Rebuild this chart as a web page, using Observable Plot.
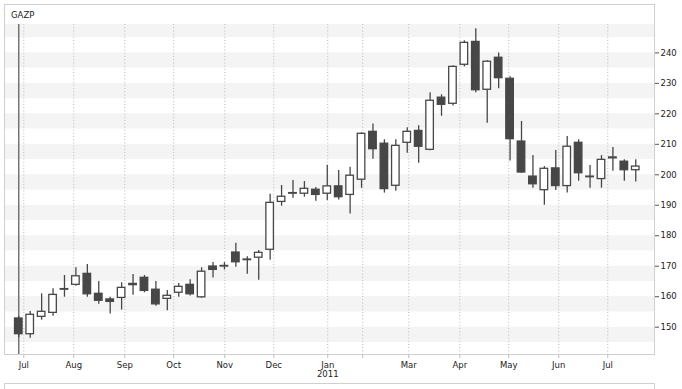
<!DOCTYPE html>
<html>
<head>
<meta charset="utf-8">
<script src="https://cdn.jsdelivr.net/npm/d3@7"></script>
<script src="https://cdn.jsdelivr.net/npm/@observablehq/plot@0.6"></script>
<style>
  html, body { margin: 0; padding: 0; background: #fff; }
  #chart { width: 682px; height: 389px; }
</style>
</head>
<body>
<div id="chart"></div>
<script>
const title = "GAZP";

// weekly candles (index order)
const open = [152.85,147.7,153.4,154.7,162.3,163.9,167.5,160.96,159.1,159.6,
  163.8,166.2,162.3,159.3,161.3,163.9,159.8,169.9,169.9,174.5,
  172.0,172.8,175.4,191.1,193.8,193.8,195.1,193.8,196.2,193.4,
  198.4,214.1,210.2,196.4,210.5,214.4,208.2,225.3,223.3,236.1,
  243.6,227.9,238.4,231.5,210.9,199.4,194.95,202.1,196.3,210.5,
  199.4,198.6,205.4,204.3,201.5];
const close = [147.7,154.07,155.05,160.6,162.5,166.7,160.8,158.66,158.3,162.9,
  164.2,161.9,157.5,160.3,163.25,160.8,168.2,168.8,170.1,171.3,
  172.2,174.4,190.8,192.8,194.0,195.4,193.4,196.2,192.65,199.7,
  213.45,208.4,195.3,209.5,214.1,209.2,224.3,222.97,235.4,243.3,
  227.75,237.1,231.7,211.7,200.75,196.9,201.97,196.3,209.2,200.5,
  199.2,204.9,205.7,201.5,202.7];
const high = [153.5,155.15,160.96,162.6,166.96,169.5,170.6,165.0,159.8,164.6,
  167.3,166.96,165.0,162.0,164.3,165.55,169.5,171.2,171.2,177.5,
  173.1,175.2,193.6,196.5,198.1,197.8,195.8,203.1,201.4,202.5,
  213.8,216.7,211.5,211.5,215.4,216.1,226.9,226.25,235.8,243.96,
  247.9,237.4,240.0,232.15,217.5,206.3,202.7,208.0,212.6,211.5,
  203.05,206.3,208.96,204.9,204.9];
const low = [146.5,146.4,152.3,153.6,159.84,163.45,159.8,157.5,154.3,155.6,
  160.5,161.3,156.9,155.4,159.8,160.2,159.5,166.1,168.8,169.7,
  167.4,165.4,172.0,189.7,192.3,192.65,191.3,191.6,191.7,187.1,
  195.6,205.1,194.0,194.6,207.1,203.8,207.9,219.2,222.6,235.4,
  226.9,216.9,228.2,204.5,200.5,195.6,190.0,194.85,194.0,197.9,
  195.6,195.6,201.2,197.9,197.6];

// month ticks, positioned on the candle-index axis
const monthTickPos = [0.44, 4.81, 9.28, 13.56, 18.03, 22.32, 27.04, 30.1, 34.13, 38.6, 42.88, 47.26, 51.55];
const monthTickLabels = ["Jul","Aug","Sep","Oct","Nov","Dec","Jan\n2011","","Mar","Apr","May","Jun","Jul"];
const yTicks = [150,160,170,180,190,200,210,220,230,240];

const candles = open.map((o, i) => ({i, o, h: high[i], l: low[i], c: close[i]}));
const labelMap = new Map(monthTickPos.map((p, k) => [p, monthTickLabels[k]]));
const bandStarts = d3.range(145, 250, 10);

const W = 682, H = 389;
const mTop = 24, mLeft = 4, mRight = 28, mBottom = 35;
const dark = "#474747";
const halfW = 0.33;

const plot = Plot.plot({
  width: W, height: H,
  marginTop: mTop, marginLeft: mLeft, marginRight: mRight, marginBottom: mBottom,
  style: {fontFamily: "'DejaVu Sans', sans-serif", fontSize: "8.5px", color: "#222", background: "#fff"},
  x: {type: "linear", domain: [-1.25, 55.64]},
  y: {domain: [141.04, 249.31]},
  marks: [
    Plot.rect(bandStarts, {y1: d => d, y2: d => d + 5, fill: "#f4f4f4", clip: true}),
    Plot.gridX(monthTickPos, {stroke: "#b8b8b8", strokeOpacity: 1, strokeDasharray: "1,2.2"}),
    Plot.ruleX([candles[0].i], {stroke: "#555", strokeWidth: 1.2}),
    Plot.ruleX(candles, {x: "i", y1: "l", y2: "h", stroke: dark, strokeWidth: 1.3}),
    Plot.rect(candles, {
      x1: d => d.i - halfW, x2: d => d.i + halfW,
      y1: "o", y2: "c",
      fill: d => d.c < d.o ? dark : "#fff",
      stroke: dark, strokeWidth: 1.3
    }),
    Plot.axisX(monthTickPos, {tickFormat: d => labelMap.get(d), tickSize: 4, tickPadding: 3, stroke: "#bbb", fill: "#222", label: null, lineHeight: 1.1}),
    Plot.axisY(yTicks, {anchor: "right", tickSize: 4, tickPadding: 2, stroke: "#555", fill: "#222", label: null})
  ]
});

document.getElementById("chart").appendChild(plot);

// outer chart box (includes title strip) and navigator box edge
const svg = d3.select(plot);
svg.append("rect")
  .attr("x", mLeft + 0.5).attr("y", 4.5)
  .attr("width", W - mLeft - mRight).attr("height", H - mBottom - 4)
  .attr("fill", "none").attr("stroke", "#cfcfcf");
svg.append("path")
  .attr("d", `M${mLeft + 0.5},${H + 2}V383.5H${W - mRight + 0.5}V${H + 2}`)
  .attr("fill", "none").attr("stroke", "#cfcfcf");
svg.append("text")
  .attr("x", 11).attr("y", 18)
  .attr("text-anchor", "start")
  .attr("font-family", "'DejaVu Sans', sans-serif")
  .attr("font-size", "8.5px").attr("fill", "#222")
  .text(title);
</script>
</body>
</html>
